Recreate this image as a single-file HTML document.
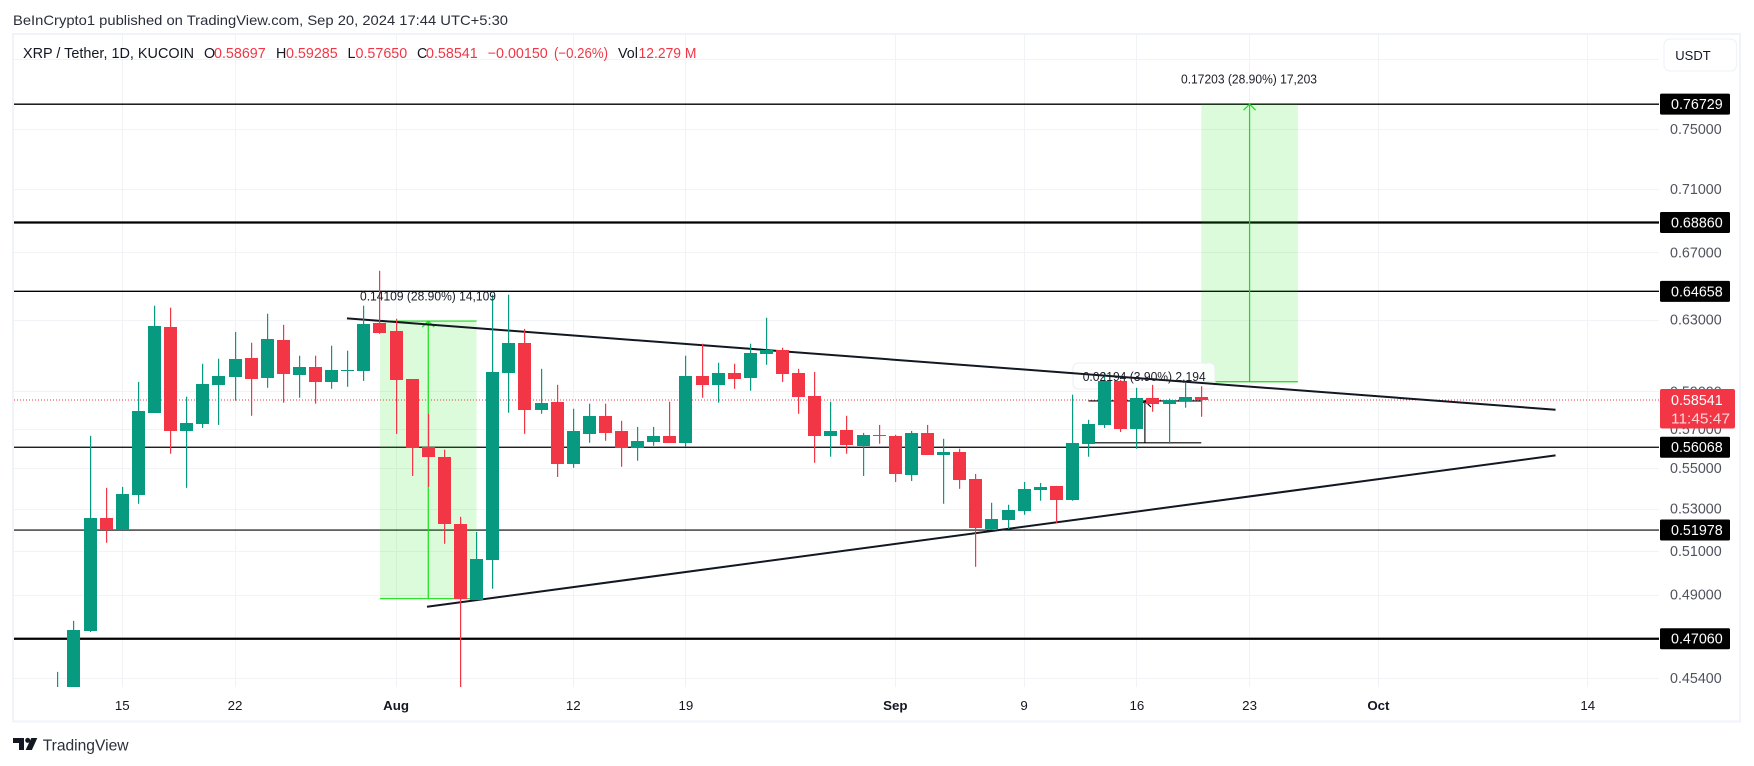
<!DOCTYPE html>
<html lang="en">
<head>
<meta charset="utf-8">
<title>XRP / Tether, 1D, KUCOIN</title>
<style>
html,body{margin:0;padding:0;background:#fff;width:1754px;height:766px;overflow:hidden}
svg{display:block;font-family:"Liberation Sans",sans-serif}
</style>
</head>
<body>
<svg id="chart" xmlns="http://www.w3.org/2000/svg" width="1754" height="766" viewBox="0 0 1754 766">
  <defs>
    <clipPath id="plot-clip"><rect x="14" y="35" width="1645" height="652"></rect></clipPath>
  </defs>
  <rect x="0" y="0" width="1754" height="766" fill="#ffffff"></rect>
  <text x="13" y="25" font-size="14" fill="#2a2e39" textLength="495" lengthAdjust="spacingAndGlyphs">BeInCrypto1 published on TradingView.com, Sep 20, 2024 17:44 UTC+5:30</text>
  <rect x="13" y="34" width="1727" height="687.5" fill="none" stroke="#f0f3fa" stroke-width="2"></rect>
  <g id="layer-grid"></g>
  <g id="layer-draw"></g>
  <g id="layer-candles" clip-path="url(#plot-clip)"></g>
  <g id="layer-text"></g>
  <g id="layer-axis"></g>
  <g id="layer-time"></g>
  <g font-size="14.3">
    <text x="23" y="58" fill="#131722" textLength="171" lengthAdjust="spacingAndGlyphs">XRP / Tether, 1D, KUCOIN</text>
    <text x="204" y="58" fill="#131722">O</text>
    <text x="214" y="58" fill="#f23645">0.58697</text>
    <text x="276" y="58" fill="#131722">H</text>
    <text x="286" y="58" fill="#f23645">0.59285</text>
    <text x="347.5" y="58" fill="#131722">L</text>
    <text x="355.5" y="58" fill="#f23645">0.57650</text>
    <text x="417" y="58" fill="#131722">C</text>
    <text x="426" y="58" fill="#f23645">0.58541</text>
    <text x="487.7" y="58" fill="#f23645">−0.00150</text>
    <text x="554" y="58" fill="#f23645" textLength="54" lengthAdjust="spacingAndGlyphs">(−0.26%)</text>
    <text x="618" y="58" fill="#131722">Vol</text>
    <text x="638.5" y="58" fill="#f23645" textLength="58" lengthAdjust="spacingAndGlyphs">12.279 M</text>
  </g>
  <g>
    <rect x="1664" y="39" width="72.5" height="32" rx="6" fill="#ffffff" stroke="#f0f3fa" stroke-width="1.3"></rect>
    <text x="1675.3" y="60" font-size="13" fill="#131722">USDT</text>
  </g>
  <g>
    <path d="M13 738h11v12h-5v-7h-6z" fill="#131722"></path>
    <circle cx="27.7" cy="740.4" r="2.5" fill="#131722"></circle>
    <path d="M31.3 738h6l-5.4 12h-6.3z" fill="#131722"></path>
    <text x="42.7" y="750.5" font-size="15.6" fill="#2a2e39">TradingView</text>
  </g>
</svg>
<script>
// ---- chart data (first entry is Jul 11, 2024) ----
const firstDayOffset = -4;
const opens = [.44,.446,.47398,.52562,.5198,.53682,.57864,.62587,.56909,.57277,.59359,.59789,.60851,.59733,.61857,.59901,.60348,.59519,.6018,.60124,.62821,.6236,.5968,.56093,.55583,.5227,.4877,.50585,.60013,.6169,.58024,.58451,.55226,.56756,.57704,.56909,.56042,.56348,.56654,.56297,.59845,.59359,.60013,.59733,.61075,.61298,.60013,.58772,.56654,.5696,.56144,.56705,.56654,.54665,.56807,.55685,.55838,.54461,.52027,.52465,.52903,.53925,.5412,.53439,.56246,.57223,.59573,.57011,.58665,.58345,.58505,.58697];
const highs = [.45655,.47836,.56654,.54023,.54071,.59519,.63815,.63698,.58718,.60516,.60795,.62304,.6169,.63347,.62704,.60963,.60963,.61522,.61242,.63815,.65883,.63055,.5968,.57811,.5594,.52611,.51887,.64459,.64459,.62472,.60236,.59359,.58078,.58345,.58345,.57437,.57116,.57116,.58451,.60963,.61634,.60572,.60516,.61634,.63113,.6141,.60236,.60068,.58451,.57704,.56807,.57223,.56705,.56909,.57223,.56501,.55991,.54716,.53292,.53195,.54315,.54266,.5412,.58825,.5749,.60013,.59626,.59199,.59359,.58612,.59466,.59285];
const lows = [.435,.44,.4735,.51376,.5198,.53243,.57864,.55736,.54023,.57063,.57223,.58505,.57704,.59199,.58398,.58665,.58345,.59146,.59252,.59573,.62193,.56756,.54614,.54071,.51329,.4485,.4877,.4926,.57864,.56756,.57811,.54563,.55022,.56297,.56399,.55073,.55379,.56144,.56297,.56093,.58665,.58398,.59146,.59039,.6046,.59519,.57811,.55277,.55583,.55736,.54614,.56246,.54315,.54364,.55685,.53243,.53974,.5026,.5198,.52027,.52708,.5339,.52319,.5339,.55583,.57063,.56858,.55991,.57917,.56246,.58131,.5765];
const closes = [.4495,.4744,.52562,.5198,.5373,.5797,.62645,.56909,.5733,.59413,.59845,.60795,.5968,.61913,.59957,.60348,.59519,.6018,.60185,.62762,.62249,.59626,.56042,.55583,.5227,.48815,.50632,.60068,.6169,.58024,.58398,.55226,.56909,.57704,.56807,.56042,.56399,.56654,.56297,.59845,.59359,.60013,.5968,.61131,.61298,.59957,.58718,.56654,.56909,.56195,.56705,.567,.54716,.56807,.55685,.55838,.54413,.52075,.52513,.52952,.53974,.54071,.53439,.56297,.57277,.59573,.57011,.58665,.58345,.58558,.58718,.58541];
const priceTicks = [.8,.75,.71,.67,.63,.59,.57,.55,.53,.51,.49,.454];
const levelPrices = [.76729,.6886,.64658,.56068,.51978,.4706];
const lastPrice = .58541;
const countdownLabel = "11:45:47";
const timeTickDays = [0,7,17,28,35,48,56,63,70,78,91];
const timeTickLabels = ["15","22","Aug","12","19","Sep","9","16","23","Oct","14"];
const upperTrendDays = [13.95,89];
const upperTrendPrices = [.6308,.58024];
const lowerTrendDays = [18.92,89];
const lowerTrendPrices = [.48459,.55649];
const longBoxDays = [16,22];
const longBoxPrices = [.62924,.48815];
const longBoxLabel = "0.14109 (28.90%) 14,109";
const targetBoxDays = [67,73];
const targetBoxPrices = [.76729,.59526];
const targetBoxLabel = "0.17203 (28.90%) 17,203";
const rangeDays = [60,67];
const rangePrices = [.5849,.56296];
const rangeLabel = "0.02194 (3.90%) 2,194";

// ---- axis functions ----
function xOf(day){return 122.3+16.104*day;}
function yOf(price){return 678-1093.5*Math.log(price/0.454);}

const NS='http://www.w3.org/2000/svg';
function mk(tag,parent,props,txt){
  const el=document.createElementNS(NS,tag);
  for(const k in props)el.setAttribute(k,props[k]);
  if(txt!==undefined)el.textContent=txt;
  parent.appendChild(el);
  return el;
}
const gridLayer=document.getElementById('layer-grid');
const drawLayer=document.getElementById('layer-draw');
const candleLayer=document.getElementById('layer-candles');
const textLayer=document.getElementById('layer-text');
const axisLayer=document.getElementById('layer-axis');
const timeLayer=document.getElementById('layer-time');
const PL=14,PR=1659,PT=35,PB=687,GRID='#f2f3f6',GREEN='#089981',RED='#f23645',LIME='#19dd19',INK='#131722';

// grid + price tick labels
priceTicks.forEach(function(p){
  const y=Math.round(yOf(p))+.5;
  const g=mk('line',gridLayer,{x1:PL,x2:PR,y1:y,y2:y,stroke:GRID,'stroke-width':1});
  
  
  const t=mk('text',axisLayer,{x:1670,y:yOf(p)+5,'font-size':14.3,fill:'#50535e'},p.toFixed(5));
  
  
});
timeTickDays.forEach(function(d,i){
  const x=Math.floor(xOf(d))+.5;
  const g=mk('line',gridLayer,{x1:x,x2:x,y1:PT,y2:PB,stroke:GRID,'stroke-width':1});
  
  
  const bold=/[A-Za-z]/.test(timeTickLabels[i]);
  const t=mk('text',timeLayer,{x:xOf(d),y:710,'font-size':13.3,'text-anchor':'middle',fill:INK,'font-weight':bold?'700':'400'},timeTickLabels[i]);
  
  
});

// horizontal support/resistance levels
const thickLevel=[1.3,2.2,1.4,1.2,1.2,2.2];
levelPrices.forEach(function(p,i){
  const y=yOf(p);
  const l=mk('line',drawLayer,{x1:PL,x2:PR,y1:y,y2:y,stroke:'#000','stroke-width':thickLevel[i]});
  
  
});

// last price dotted line
const dotted=mk('line',drawLayer,{x1:PL,x2:PR,y1:yOf(lastPrice),y2:yOf(lastPrice),stroke:RED,'stroke-width':1,'stroke-dasharray':'1 2'});



// green measure boxes
function greenBox(days,prices){
  const x0=xOf(days[0]),x1=xOf(days[1]),yT=yOf(prices[0]),yB=yOf(prices[1]);
  const r=mk('rect',drawLayer,{x:x0,y:yT,width:x1-x0,height:yB-yT,fill:'#00e600','fill-opacity':.14});
  
  
  return [x0,x1,yT,yB];
}
function arrowUp(day,yT,yB,color,w){
  const x=xOf(day);
  const a=mk('line',drawLayer,{x1:x,x2:x,y1:yB,y2:yT,stroke:color,'stroke-width':w});
  
  
  const h=mk('path',drawLayer,{d:'M'+(x-6)+' '+(yT+6)+'L'+x+' '+yT+'L'+(x+6)+' '+(yT+6),fill:'none',stroke:color,'stroke-width':w});
  
  
}
const b1=greenBox(longBoxDays,longBoxPrices);
[b1[2],b1[3]].forEach(function(y){
  const l=mk('line',drawLayer,{x1:b1[0],x2:b1[1],y1:y,y2:y,stroke:LIME,'stroke-width':1.2});
  
  
});
arrowUp((longBoxDays[0]+longBoxDays[1])/2,b1[2],b1[3],LIME,1.2);
const b3=greenBox(targetBoxDays,targetBoxPrices);
const e3=mk('line',drawLayer,{x1:b3[0],x2:b3[1],y1:b3[3],y2:b3[3],stroke:LIME,'stroke-width':1.2});


arrowUp((targetBoxDays[0]+targetBoxDays[1])/2,b3[2],b3[3],LIME,1.2);

// label plate of the small range measure
const plate=mk('rect',drawLayer,{x:1073,y:363,width:142,height:26,rx:5,fill:'#ffffff','fill-opacity':.82,stroke:'#eceef2','stroke-width':1});



// small black range measure
const rx0=xOf(rangeDays[0]),rx1=xOf(rangeDays[1]),ryT=yOf(rangePrices[0]),ryB=yOf(rangePrices[1]);
[ryT,ryB].forEach(function(y){
  const l=mk('line',drawLayer,{x1:rx0,x2:rx1,y1:y,y2:y,stroke:'#000','stroke-width':1.1});
  
  
});
const rmid=(rangeDays[0]+rangeDays[1])/2;
arrowUp(rmid,ryT,ryB,'#000',1.1);

// trend lines
function trend(days,prices,name){
  const l=mk('line',drawLayer,{x1:xOf(days[0]),y1:yOf(prices[0]),x2:xOf(days[1]),y2:yOf(prices[1]),stroke:INK,'stroke-width':2});
  
  
}
trend(upperTrendDays,upperTrendPrices,'upper-trendline');
trend(lowerTrendDays,lowerTrendPrices,'lower-trendline');

// candles
opens.forEach(function(o,i){
  const d=firstDayOffset+i,h=highs[i],l=lows[i],c=closes[i];
  const col=c>=o?GREEN:RED;
  const xc=Math.floor(xOf(d));
  const top=Math.round(yOf(Math.max(o,c))),bot=Math.round(yOf(Math.min(o,c)));
  const g=mk('g',candleLayer,{});
  
  
  const yH=yOf(h),yL=yOf(l);
  const w=mk('rect',g,{x:xc,y:yH,width:1.2,height:Math.max(0,yL-yH),fill:col});
  
  
  const b=mk('rect',g,{x:xc-6,y:top,width:13,height:Math.max(1,bot-top),fill:col});
  
  
});

// measure labels
function label(x,y,len,txt,name){
  const t=mk('text',textLayer,{x:x,y:y,'font-size':12.5,fill:'#1b1e27',textLength:len,lengthAdjust:'spacingAndGlyphs'},txt);
  
  
}
label(360,300.5,136,longBoxLabel,'long-measure-label');
label(1181,83.5,136,targetBoxLabel,'target-measure-label');
label(1082.7,381,123,rangeLabel,'range-measure-label');

// price axis tags
levelPrices.forEach(function(p){
  const y=yOf(p);
  const r=mk('rect',axisLayer,{x:1660,y:y-10.5,width:70,height:21,rx:1.5,fill:'#000'});
  
  
  const t=mk('text',axisLayer,{x:1671,y:y+5,'font-size':14.3,fill:'#fff'},p.toFixed(5));
  
  
});
const lastY=yOf(lastPrice);
const tag=mk('rect',axisLayer,{x:1660,y:lastY-11,width:75,height:39.5,rx:2,fill:RED});


const tagT=mk('text',axisLayer,{x:1671,y:lastY+5,'font-size':14.3,fill:'#fff'},lastPrice.toFixed(5));


const tagC=mk('text',axisLayer,{x:1671,y:lastY+23.5,'font-size':14.3,fill:'#ffd5d9',textLength:59,lengthAdjust:'spacingAndGlyphs'},countdownLabel);


</script>
</body>
</html>
